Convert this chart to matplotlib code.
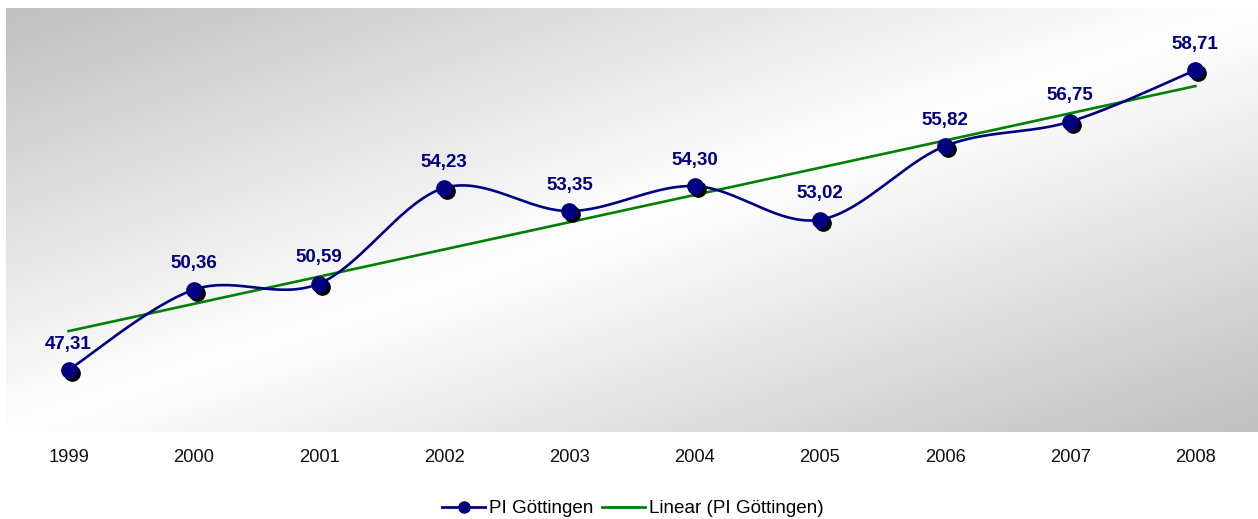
import numpy as np
import matplotlib
matplotlib.use("Agg")
import matplotlib.pyplot as plt
from matplotlib.transforms import offset_copy
from matplotlib.lines import Line2D

plt.rcParams['font.family'] = ['Liberation Sans', 'DejaVu Sans']

years = ["1999", "2000", "2001", "2002", "2003", "2004", "2005", "2006", "2007", "2008"]
values = [47.31, 50.36, 50.59, 54.23, 53.35, 54.30, 53.02, 55.82, 56.75, 58.71]
labels = ["47,31", "50,36", "50,59", "54,23", "53,35", "54,30", "53,02", "55,82", "56,75", "58,71"]
series_name = "PI Göttingen"
trend_name = "Linear (PI Göttingen)"

NAVY = "#000080"
GREEN = "#008000"

x = np.arange(len(values), dtype=float)
y = np.array(values, dtype=float)


def smooth_curve(px, py, n=40):
    pts = np.column_stack([px, py])
    ext = np.vstack([pts[0], pts, pts[-1]])
    out = []
    for i in range(len(pts) - 1):
        p0, p1, p2, p3 = ext[i], ext[i + 1], ext[i + 2], ext[i + 3]
        c1 = p1 + (p2 - p0) / 6.0
        c2 = p2 - (p3 - p1) / 6.0
        t = np.linspace(0, 1, n)[:, None]
        seg = ((1 - t) ** 3) * p1 + 3 * ((1 - t) ** 2) * t * c1 + 3 * (1 - t) * t ** 2 * c2 + t ** 3 * p2
        if i > 0:
            seg = seg[1:]
        out.append(seg)
    out = np.vstack(out)
    return out[:, 0], out[:, 1]


fig = plt.figure(figsize=(12.58, 5.19), dpi=100)
ax = fig.add_axes([6 / 1258, 87 / 519, 1252 / 1258, 424 / 519])

# gradient background
W, H = 400, 200
u = np.linspace(0, 1, W)[None, :]
v = np.linspace(0, 1, H)[:, None]
t = (u + v) / 2.0
val = (192 + 63 * (1 - np.abs(2 * t - 1))) / 255.0
img = np.dstack([val, val, val])
ax.imshow(img, extent=[0, 1, 0, 1], transform=ax.transAxes, aspect='auto',
          zorder=0, origin='upper', interpolation='bilinear')

sx, sy = smooth_curve(x, y)
ax.plot(sx, sy, color=NAVY, lw=1.9, zorder=3, solid_capstyle='round')

# trend line
slope, intercept = np.polyfit(x, y, 1)
ax.plot([x[0], x[-1]], [intercept + slope * x[0], intercept + slope * x[-1]],
        color=GREEN, lw=1.9, zorder=2)

# markers with shadow
shadow_tr = offset_copy(ax.transData, fig=fig, x=3, y=-3, units='dots')
ax.plot(x, y, 'o', color='black', ms=11, mec='black', transform=shadow_tr, zorder=4)
ax.plot(x, y, 'o', color=NAVY, ms=11, mec=NAVY, zorder=5)

for xi, yi, lab in zip(x, y, labels):
    ax.annotate(lab, (xi, yi), xytext=(0, 12.5), textcoords='offset points',
                ha='center', va='bottom', fontsize=13.5, fontweight='bold',
                color=NAVY, zorder=6)

ax.set_xlim(-0.5, len(values) - 0.5)
ax.set_ylim(44.95, 61.07)
ax.set_xticks(x)
ax.set_xticklabels(years, fontsize=13.2, color='#111111')
ax.tick_params(axis='x', length=0, pad=12)
ax.set_yticks([])
for s in ax.spines.values():
    s.set_visible(False)

handles = [
    Line2D([], [], color=NAVY, lw=2.0, marker='o', ms=8, mfc=NAVY, mec=NAVY),
    Line2D([], [], color=GREEN, lw=2.0),
]
fig.legend(handles, [series_name, trend_name], loc='center', bbox_to_anchor=(0.503, 0.02),
           ncol=2, frameon=False, fontsize=13.6, handlelength=2.3, handletextpad=0.2,
           columnspacing=0.45)

fig.savefig("out.png", dpi=100)
